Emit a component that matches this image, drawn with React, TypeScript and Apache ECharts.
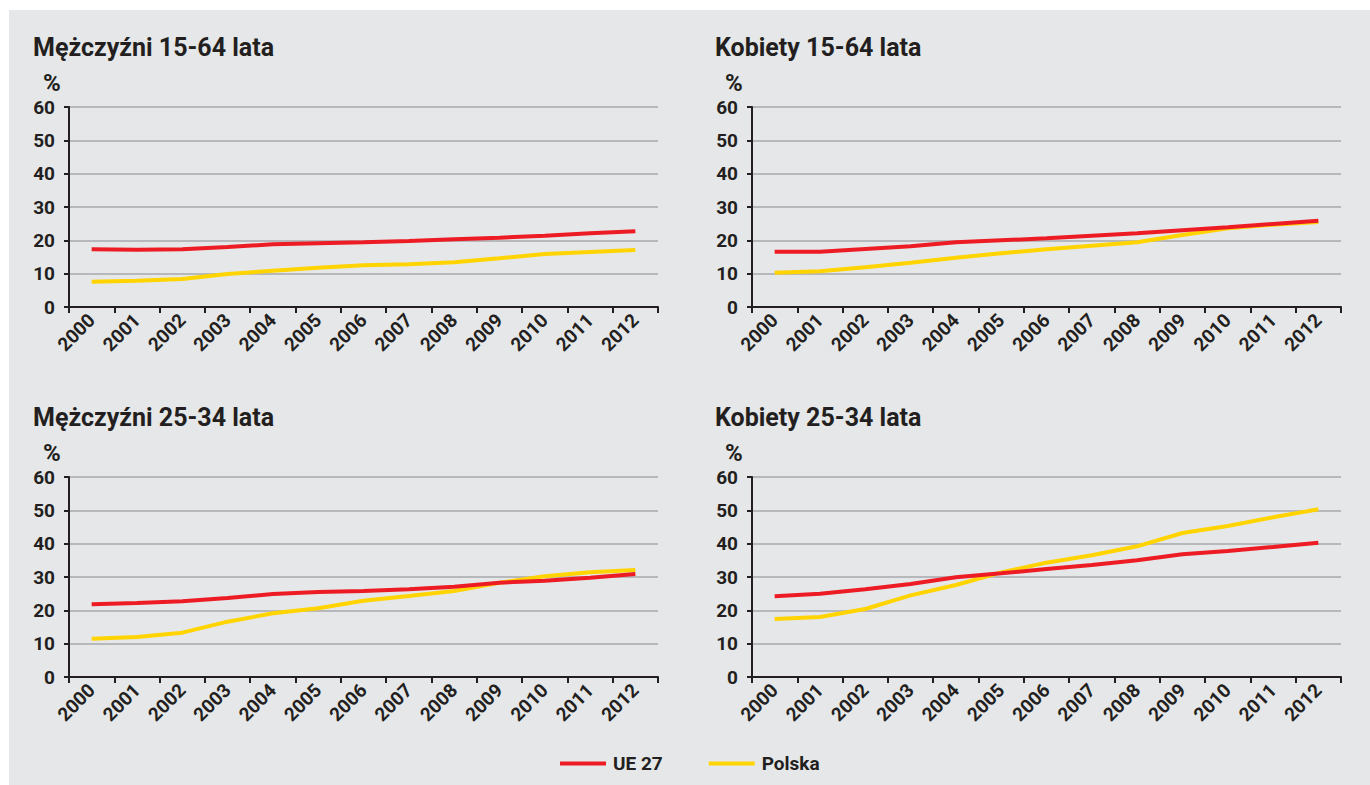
import React, { useEffect, useRef } from "react";
import * as echarts from "echarts";

const years = ["2000","2001","2002","2003","2004","2005","2006","2007","2008","2009","2010","2011","2012"];
const titles = ["Mężczyźni 15-64 lata", "Kobiety 15-64 lata", "Mężczyźni 25-34 lata", "Kobiety 25-34 lata"];
const yTicks = [0, 10, 20, 30, 40, 50, 60];

const ueMen1564 = [17.3,17.2,17.3,18.0,18.8,19.1,19.4,19.8,20.3,20.8,21.4,22.1,22.7];
const plMen1564 = [7.6,7.9,8.4,9.9,10.9,11.8,12.5,12.8,13.4,14.6,15.9,16.5,17.1];
const ueWomen1564 = [16.6,16.6,17.4,18.2,19.4,20.0,20.6,21.4,22.1,23.0,23.9,24.9,25.9];
const plWomen1564 = [10.3,10.7,11.9,13.3,14.8,16.1,17.3,18.4,19.4,21.6,23.6,24.7,25.5];
const ueMen2534 = [21.8,22.2,22.7,23.7,24.9,25.5,25.8,26.3,27.1,28.3,28.9,29.8,30.9];
const plMen2534 = [11.5,12.0,13.3,16.6,19.1,20.6,22.9,24.3,25.8,28.3,30.2,31.4,32.1];
const ueWomen2534 = [24.2,25.0,26.3,27.9,29.9,31.1,32.4,33.6,35.0,36.8,37.8,39.0,40.3];
const plWomen2534 = [17.4,18.0,20.4,24.5,27.6,31.4,34.3,36.5,39.2,43.2,45.3,47.9,50.3];

const ueSeries = [ueMen1564, ueWomen1564, ueMen2534, ueWomen2534];
const plSeries = [plMen1564, plWomen1564, plMen2534, plWomen2534];
const seriesNames = ["UE 27", "Polska"];

const RED = "#ed1c24";
const YELLOW = "#ffd400";
const DARK = "#231f20";
const FONT = "Roboto, sans-serif";

export default function App() {
  const ref = useRef<HTMLDivElement>(null);
  useEffect(() => {
    if (!ref.current) return;
    const chart = echarts.init(ref.current, null, { renderer: "svg" });
    const gridPos = [
      { left: 69, right: 712, top: 107, height: 200 },
      { left: 752, right: 29, top: 107, height: 200 },
      { left: 69, right: 712, top: 477, height: 200 },
      { left: 752, right: 29, top: 477, height: 200 },
    ];
    const titlePos = [
      { x: 33, y: 47 },
      { x: 715, y: 47 },
      { x: 33, y: 417 },
      { x: 715, y: 417 },
    ];
    const graphics: any[] = [
      { type: "rect", shape: { x: 9, y: 10, width: 1361, height: 775 }, style: { fill: "#e6e7e8" }, z: -10 },
    ];
    titlePos.forEach((p, i) => {
      graphics.push({
        type: "text", x: p.x, y: p.y,
        style: { text: titles[i], font: `bold 25px ${FONT}`, fill: DARK, textVerticalAlign: "middle" },
      });
      graphics.push({
        type: "text", x: p.x + 10, y: p.y + 36,
        style: { text: "%", font: `bold 24px ${FONT}`, fill: DARK, textVerticalAlign: "middle" },
      });
    });

    const option: any = {
      animation: false,
      backgroundColor: "#ffffff",
      graphic: graphics,
      legend: {
        data: seriesNames,
        left: 560, top: 754, padding: 0,
        icon: "rect", itemWidth: 46, itemHeight: 4, itemGap: 46,
        textStyle: { fontFamily: FONT, fontWeight: "bold", fontSize: 19, color: DARK, padding: [0, 0, 0, 2] },
      },
      grid: gridPos.map((g) => ({ ...g, containLabel: false })),
      xAxis: gridPos.map((_, i) => ({
        type: "category", gridIndex: i, data: years, boundaryGap: true,
        axisLine: { show: true, lineStyle: { color: DARK, width: 2 } },
        axisTick: { show: true, length: 6, lineStyle: { color: DARK, width: 2 } },
        axisLabel: { rotate: 45, margin: 10, fontFamily: FONT, fontWeight: "bold", fontSize: 19, color: DARK },
        splitLine: { show: false },
      })),
      yAxis: gridPos.map((_, i) => ({
        type: "value", gridIndex: i, min: yTicks[0], max: yTicks[yTicks.length - 1], interval: 10,
        axisLine: { show: true, lineStyle: { color: DARK, width: 2 } },
        axisTick: { show: true, length: 5, lineStyle: { color: DARK, width: 2 } },
        axisLabel: { margin: 14, fontFamily: FONT, fontWeight: "bold", fontSize: 19, color: DARK },
        splitLine: { show: true, lineStyle: { color: "#a7a9ac", width: 1.5 } },
      })),
      series: [
        ...plSeries.map((d, i) => ({
          name: "Polska", type: "line", xAxisIndex: i, yAxisIndex: i, data: d,
          showSymbol: false, symbol: "none", lineStyle: { color: YELLOW, width: 4 }, itemStyle: { color: YELLOW }, z: 3,
        })),
        ...ueSeries.map((d, i) => ({
          name: "UE 27", type: "line", xAxisIndex: i, yAxisIndex: i, data: d,
          showSymbol: false, symbol: "none", lineStyle: { color: RED, width: 4 }, itemStyle: { color: RED }, z: 4,
        })),
      ],
    };
    chart.setOption(option);
    return () => chart.dispose();
  }, []);
  return (
    <div
      ref={ref}
      style={{ position: "absolute", left: 0, top: 0, width: 1370, height: 785 }}
    />
  );
}
